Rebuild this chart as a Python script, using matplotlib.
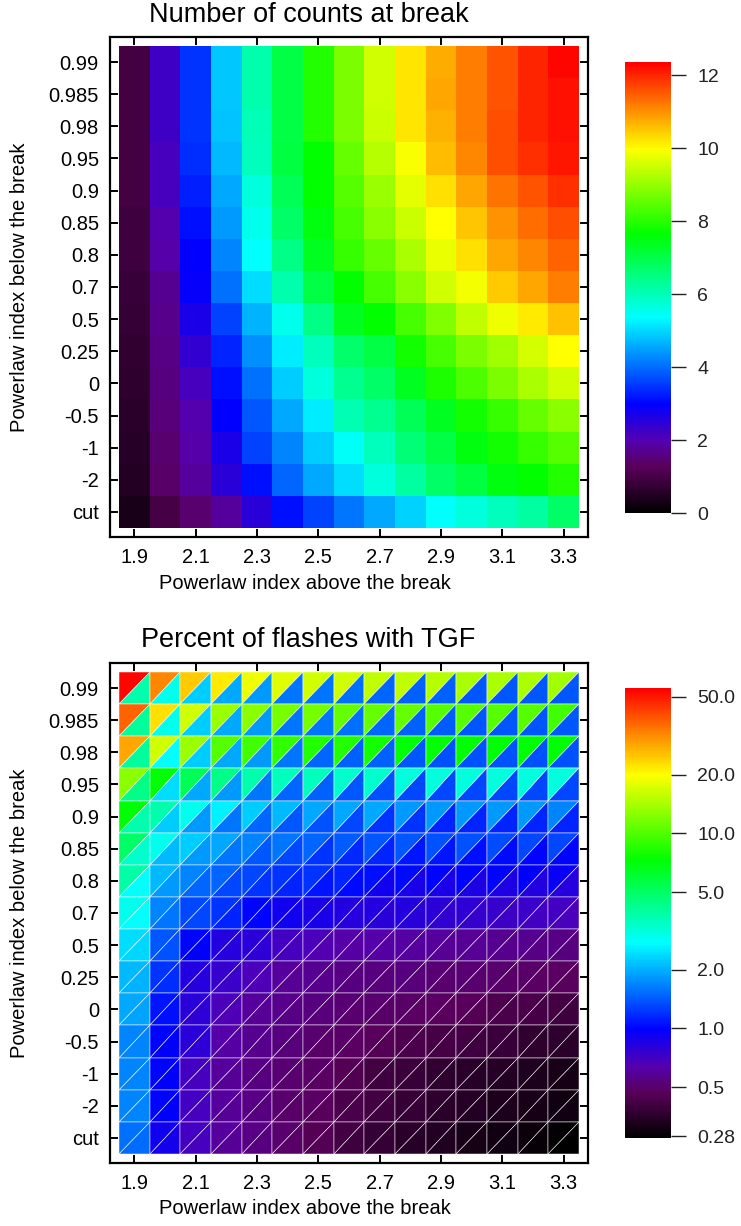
import numpy as np
import matplotlib
matplotlib.use("Agg")
import matplotlib.pyplot as plt
from matplotlib.colors import LinearSegmentedColormap, Normalize, LogNorm
from matplotlib.tri import Triangulation

plt.rcParams['font.family'] = ['Liberation Sans', 'DejaVu Sans']

# axes: powerlaw index above the break (columns), below the break (rows, top -> bottom)
index_above = [1.9, 2.0, 2.1, 2.2, 2.3, 2.4, 2.5, 2.6, 2.7, 2.8, 2.9, 3.0, 3.1, 3.2, 3.3]
index_below = ["0.99", "0.985", "0.98", "0.95", "0.9", "0.85", "0.8", "0.7",
               "0.5", "0.25", "0", "-0.5", "-1", "-2", "cut"]
x_tick_values = [1.9, 2.1, 2.3, 2.5, 2.7, 2.9, 3.1, 3.3]

# number of counts at break
counts = [
    [0.95, 2.25, 3.45, 4.84, 6.12, 7.04, 7.96, 8.74, 9.52, 10.23, 10.72, 11.17, 11.57, 11.99, 12.30],
    [0.95, 2.25, 3.45, 4.84, 6.10, 7.04, 7.96, 8.74, 9.52, 10.23, 10.78, 11.17, 11.57, 11.99, 12.20],
    [0.95, 2.25, 3.45, 4.80, 6.00, 7.04, 7.96, 8.74, 9.50, 10.23, 10.70, 11.17, 11.60, 11.99, 12.20],
    [0.95, 2.15, 3.42, 4.73, 5.97, 7.08, 7.65, 8.59, 9.30, 9.92, 10.60, 11.06, 11.62, 11.91, 12.14],
    [0.92, 2.15, 3.27, 4.55, 5.66, 6.89, 7.65, 8.43, 9.05, 9.71, 10.28, 10.78, 11.25, 11.57, 11.91],
    [0.90, 1.96, 3.12, 4.40, 5.51, 6.73, 7.50, 8.27, 8.90, 9.48, 9.99, 10.50, 10.96, 11.32, 11.62],
    [0.88, 1.90, 2.97, 4.24, 5.36, 6.43, 7.35, 8.12, 8.59, 9.21, 9.76, 10.28, 10.78, 11.10, 11.41],
    [0.78, 1.69, 2.90, 4.02, 5.04, 6.12, 7.04, 7.65, 8.27, 8.90, 9.52, 9.85, 10.46, 10.78, 11.17],
    [0.74, 1.66, 2.66, 3.61, 4.66, 5.51, 6.43, 7.35, 7.65, 8.27, 8.82, 9.37, 9.83, 10.15, 10.54],
    [0.69, 1.64, 2.38, 3.29, 4.32, 5.20, 5.97, 6.67, 7.04, 7.81, 8.27, 8.74, 9.12, 9.60, 9.99],
    [0.64, 1.56, 2.15, 3.13, 4.02, 4.88, 5.66, 6.36, 6.73, 7.35, 7.88, 8.35, 8.74, 9.19, 9.52],
    [0.60, 1.51, 1.96, 2.97, 3.77, 4.55, 5.20, 6.07, 6.36, 6.89, 7.35, 7.81, 8.12, 8.59, 8.90],
    [0.54, 1.44, 1.90, 2.66, 3.61, 4.24, 4.88, 5.45, 5.97, 6.58, 7.04, 7.50, 7.81, 8.12, 8.43],
    [0.50, 1.37, 1.83, 2.47, 3.13, 3.93, 4.56, 5.04, 5.66, 6.21, 6.73, 7.08, 7.50, 7.65, 7.96],
    [0.36, 0.98, 1.43, 1.83, 2.50, 3.13, 3.61, 4.09, 4.56, 4.96, 5.36, 5.66, 5.97, 6.21, 6.73],
]

# percent of flashes with TGF, upper-left triangle of each cell
pct_upper = [
    [54.0, 32.0, 24.5, 21.5, 18.8, 17.6, 16.5, 16.5, 15.4, 15.4, 15.0, 14.3, 14.3, 14.3, 13.8],
    [36.8, 22.7, 16.5, 13.4, 12.5, 11.7, 11.7, 10.9, 10.9, 10.9, 10.2, 10.2, 10.2, 10.2, 9.5],
    [28.2, 16.5, 13.4, 10.2, 9.5, 8.9, 8.3, 8.3, 7.75, 7.25, 7.25, 7.25, 7.25, 7.25, 7.25],
    [12.5, 7.25, 5.28, 4.33, 3.8, 3.56, 3.56, 3.33, 3.33, 3.12, 3.12, 3.12, 3.12, 3.12, 3.12],
    [7.25, 3.8, 2.93, 2.58, 2.24, 2.09, 1.95, 1.95, 1.95, 1.82, 1.82, 1.82, 1.82, 1.82, 1.70],
    [4.94, 2.93, 2.24, 1.95, 1.70, 1.59, 1.48, 1.42, 1.39, 1.39, 1.36, 1.36, 1.33, 1.30, 1.30],
    [3.9, 2.09, 1.70, 1.48, 1.30, 1.21, 1.21, 1.13, 1.05, 1.02, 1.00, 1.00, 1.00, 0.98, 0.95],
    [2.93, 1.70, 1.30, 1.21, 1.00, 0.90, 0.86, 0.84, 0.84, 0.83, 0.80, 0.78, 0.75, 0.74, 0.70],
    [2.40, 1.39, 1.00, 0.84, 0.80, 0.70, 0.67, 0.62, 0.62, 0.61, 0.60, 0.59, 0.57, 0.57, 0.55],
    [2.09, 1.21, 0.84, 0.75, 0.67, 0.60, 0.57, 0.55, 0.54, 0.54, 0.52, 0.52, 0.51, 0.49, 0.48],
    [1.95, 1.06, 0.80, 0.67, 0.60, 0.56, 0.54, 0.52, 0.51, 0.49, 0.48, 0.47, 0.44, 0.43, 0.41],
    [1.70, 1.00, 0.80, 0.62, 0.57, 0.54, 0.51, 0.49, 0.47, 0.44, 0.42, 0.41, 0.39, 0.37, 0.36],
    [1.70, 1.00, 0.70, 0.60, 0.55, 0.52, 0.49, 0.46, 0.41, 0.39, 0.37, 0.355, 0.345, 0.335, 0.32],
    [1.70, 1.00, 0.70, 0.60, 0.55, 0.51, 0.48, 0.43, 0.41, 0.38, 0.36, 0.345, 0.33, 0.32, 0.31],
    [1.54, 0.90, 0.70, 0.60, 0.55, 0.51, 0.46, 0.41, 0.38, 0.355, 0.34, 0.32, 0.31, 0.295, 0.28],
]

# percent of flashes with TGF, lower-right triangle of each cell
pct_lower = [
    [3.8, 2.93, 2.24, 1.95, 1.82, 1.59, 1.59, 1.54, 1.48, 1.45, 1.45, 1.39, 1.39, 1.39, 1.39],
    [4.06, 2.93, 2.24, 1.95, 1.82, 1.59, 1.59, 1.54, 1.48, 1.45, 1.42, 1.39, 1.39, 1.39, 1.39],
    [4.06, 2.76, 2.24, 1.95, 1.82, 1.59, 1.48, 1.45, 1.45, 1.39, 1.36, 1.36, 1.36, 1.36, 1.36],
    [4.33, 2.40, 1.95, 1.82, 1.59, 1.48, 1.45, 1.40, 1.36, 1.30, 1.30, 1.30, 1.30, 1.30, 1.30],
    [3.8, 2.24, 1.82, 1.59, 1.48, 1.39, 1.36, 1.30, 1.21, 1.20, 1.13, 1.13, 1.13, 1.13, 1.13],
    [3.33, 2.09, 1.82, 1.59, 1.39, 1.30, 1.21, 1.15, 1.13, 1.06, 1.06, 1.04, 1.02, 1.00, 1.00],
    [2.76, 1.82, 1.48, 1.30, 1.21, 1.13, 1.06, 1.02, 0.90, 0.86, 0.86, 0.85, 0.85, 0.84, 0.82],
    [2.76, 1.59, 1.30, 1.13, 1.00, 0.90, 0.86, 0.82, 0.80, 0.79, 0.77, 0.75, 0.72, 0.71, 0.68],
    [2.35, 1.36, 0.98, 0.82, 0.78, 0.69, 0.65, 0.61, 0.61, 0.60, 0.58, 0.58, 0.56, 0.55, 0.54],
    [2.05, 1.18, 0.82, 0.74, 0.66, 0.59, 0.56, 0.54, 0.53, 0.53, 0.51, 0.51, 0.50, 0.48, 0.47],
    [1.92, 1.04, 0.78, 0.66, 0.59, 0.55, 0.53, 0.51, 0.50, 0.48, 0.47, 0.46, 0.43, 0.42, 0.40],
    [1.68, 0.98, 0.78, 0.61, 0.56, 0.53, 0.50, 0.48, 0.46, 0.43, 0.415, 0.40, 0.385, 0.365, 0.355],
    [1.68, 0.98, 0.69, 0.59, 0.54, 0.51, 0.48, 0.45, 0.405, 0.385, 0.365, 0.35, 0.34, 0.33, 0.315],
    [1.68, 0.98, 0.69, 0.59, 0.54, 0.50, 0.47, 0.425, 0.405, 0.375, 0.355, 0.34, 0.325, 0.315, 0.305],
    [1.52, 0.89, 0.69, 0.59, 0.54, 0.50, 0.455, 0.405, 0.375, 0.35, 0.335, 0.315, 0.305, 0.29, 0.275],
]

# IDL style rainbow (black -> purple -> blue -> cyan -> green -> yellow -> red)
rainbow = LinearSegmentedColormap.from_list("idl_rainbow", [
    (0.0, (0, 0, 0)),
    (0.10, (0.35, 0, 0.35)),
    (0.16, (0.33, 0, 0.70)),
    (0.24, (0, 0, 1)),
    (0.434, (0, 1, 1)),
    (0.619, (0, 1, 0)),
    (0.808, (1, 1, 0)),
    (1.0, (1, 0, 0)),
])

W, H = 741, 1226
fig = plt.figure(figsize=(W / 100, H / 100), dpi=100)

def fig_rect(x0, y0, x1, y1):
    # pixel box (top-left origin) -> figure fraction
    return [x0 / W, 1 - y1 / H, (x1 - x0) / W, (y1 - y0) / H]

ax1 = fig.add_axes(fig_rect(110, 37, 588, 537))
ax2 = fig.add_axes(fig_rect(110, 663, 588, 1163))
cax1 = fig.add_axes(fig_rect(625, 62, 671, 513))
cax2 = fig.add_axes(fig_rect(625, 688, 671, 1138))

x = np.array(index_above)
x_edges = np.concatenate([[x[0] - 0.05], (x[:-1] + x[1:]) / 2, [x[-1] + 0.05]])
y_edges = np.arange(len(index_below) + 1) - 0.5

# --- top panel ---
mesh = ax1.pcolormesh(x_edges, y_edges, np.array(counts), cmap=rainbow,
                      norm=Normalize(0, 12.36), shading="flat")

# --- bottom panel : two triangles per cell ---
nx = len(x_edges)
xx, yy = np.meshgrid(x_edges, y_edges)
tris = []
vals = []
for r in range(len(index_below)):
    for c in range(len(index_above)):
        tl = r * nx + c
        tr = r * nx + c + 1
        bl = (r + 1) * nx + c
        br = (r + 1) * nx + c + 1
        tris.append([bl, tl, tr])
        vals.append(pct_upper[r][c])
        tris.append([bl, br, tr])
        vals.append(pct_lower[r][c])
triang = Triangulation(xx.ravel(), yy.ravel(), np.array(tris))
tpc = ax2.tripcolor(triang, facecolors=np.array(vals), cmap=rainbow,
                    norm=LogNorm(0.274, 55.6), edgecolors="#ffffff18", linewidth=0.35,
                    antialiased=True)

for ax in (ax1, ax2):
    ax.set_xlim(1.85 - 0.0293, 3.35 + 0.0293)
    ax.set_ylim(14.5 + 0.28, -0.5 - 0.28)
    ax.set_xticks(x_tick_values)
    ax.set_xticklabels([f"{v:.1f}" for v in x_tick_values])
    ax.set_yticks(range(len(index_below)))
    ax.set_yticklabels(index_below)
    ax.tick_params(direction="in", length=6, width=1.4, top=True, right=True,
                   labelsize=14.5, pad=8, colors="black")
    for sp in ax.spines.values():
        sp.set_linewidth(1.6)

# titles and axis labels
fig.text(309 / W, 1 - 15 / H, "Number of counts at break", ha="center", va="center", fontsize=19.5)
fig.text(308 / W, 1 - 640 / H, "Percent of flashes with TGF", ha="center", va="center", fontsize=19.5)
fig.text(305 / W, 1 - 583 / H, "Powerlaw index above the break", ha="center", va="center", fontsize=14.5)
fig.text(305 / W, 1 - 1208 / H, "Powerlaw index above the break", ha="center", va="center", fontsize=14.5)
fig.text(20 / W, 1 - 287 / H, "Powerlaw index below the break", ha="center", va="center",
         rotation=90, fontsize=14.5)
fig.text(20 / W, 1 - 913 / H, "Powerlaw index below the break", ha="center", va="center",
         rotation=90, fontsize=14.5)

# colorbars
cb1 = fig.colorbar(mesh, cax=cax1)
cb1.set_ticks([0, 2, 4, 6, 8, 10, 12])
cb2 = fig.colorbar(tpc, cax=cax2)
cb2_ticks = [0.28, 0.5, 1.0, 2.0, 5.0, 10.0, 20.0, 50.0]
cb2.set_ticks(cb2_ticks, labels=["0.28", "0.5", "1.0", "2.0", "5.0", "10.0", "20.0", "50.0"])
cax2.minorticks_off()
for cb, cax in ((cb1, cax1), (cb2, cax2)):
    cb.outline.set_visible(False)
    cax.tick_params(length=11, width=1, labelsize=14, pad=8, colors="#222222")

fig.savefig("out.png", dpi=100)
